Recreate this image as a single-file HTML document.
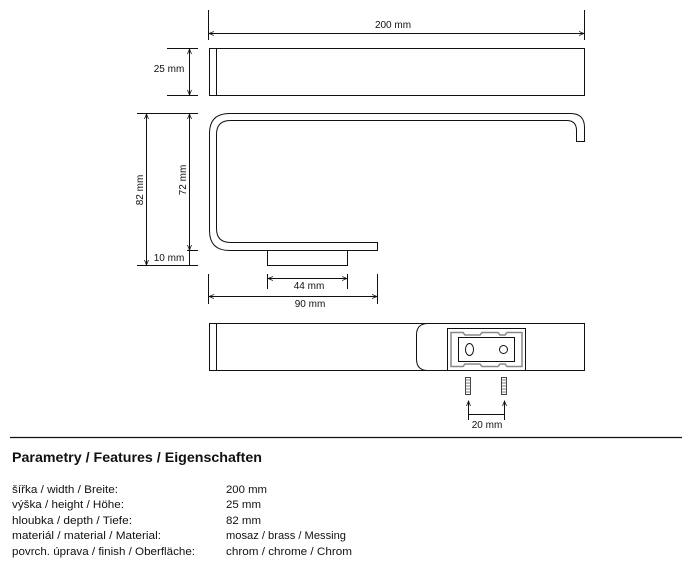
<!DOCTYPE html>
<html><head><meta charset="utf-8"><style>
html,body{margin:0;padding:0;background:#fff;}
svg{display:block;}
text{font-family:"Liberation Sans",sans-serif;fill:#111;}
</style></head><body>
<svg width="690" height="568" viewBox="0 0 690 568" xmlns="http://www.w3.org/2000/svg">
<defs>
<marker id="a" markerWidth="6" markerHeight="6" refX="5" refY="3" orient="auto-start-reverse" markerUnits="userSpaceOnUse"><path d="M0,1 L5,3 L0,5" fill="none" stroke="#111" stroke-width="0.8"/></marker>
</defs>
<g stroke="#111" stroke-width="1" fill="none">
<line x1="208.5" y1="10" x2="208.5" y2="40"/><line x1="584.5" y1="10" x2="584.5" y2="40"/>
<line x1="209" y1="33.5" x2="584" y2="33.5" marker-start="url(#a)" marker-end="url(#a)"/>
<rect x="209.5" y="48.5" width="375" height="47"/><line x1="216.5" y1="48" x2="216.5" y2="95"/>
<line x1="167" y1="48.5" x2="198" y2="48.5"/><line x1="167" y1="95.5" x2="198" y2="95.5"/>
<line x1="189.5" y1="49" x2="189.5" y2="95" marker-start="url(#a)" marker-end="url(#a)"/>
<path d="M377.5,250.5 L229.5,250.5 Q209.5,250.5 209.5,230.5 L209.5,133.5 Q209.5,113.5 229.5,113.5 L570.5,113.5 Q584.5,113.5 584.5,127.5 L584.5,141.5 L576.5,141.5 L576.5,130.5 Q576.5,120.5 566.5,120.5 L230.5,120.5 Q216.5,120.5 216.5,134.5 L216.5,228.5 Q216.5,242.5 230.5,242.5 L377.5,242.5 Z"/>
<rect x="267.5" y="250.5" width="80" height="15"/>
<line x1="137" y1="113.5" x2="198" y2="113.5"/><line x1="137" y1="265.5" x2="198" y2="265.5"/><line x1="187" y1="250.5" x2="198" y2="250.5"/>
<line x1="146.5" y1="114" x2="146.5" y2="265" marker-start="url(#a)" marker-end="url(#a)"/>
<line x1="189.5" y1="114" x2="189.5" y2="250" marker-start="url(#a)" marker-end="url(#a)"/>
<line x1="189.5" y1="251" x2="189.5" y2="265"/>
<line x1="267.5" y1="274" x2="267.5" y2="289"/><line x1="347.5" y1="274" x2="347.5" y2="289"/>
<line x1="268" y1="278.5" x2="347" y2="278.5" marker-start="url(#a)" marker-end="url(#a)"/>
<line x1="208.5" y1="274" x2="208.5" y2="304"/><line x1="377.5" y1="274" x2="377.5" y2="304"/>
<line x1="209" y1="296.5" x2="377" y2="296.5" marker-start="url(#a)" marker-end="url(#a)"/>
<rect x="209.5" y="323.5" width="375" height="47"/><line x1="216.5" y1="323" x2="216.5" y2="370"/>
<path d="M428,323.5 Q416.5,323.5 416.5,335 L416.5,359 Q416.5,370.5 428,370.5"/>
<rect x="447.5" y="328.5" width="78" height="42"/>
<path d="M451,332.5 L463,332.5 L465,335 L480,335 L482,332.5 L498,332.5 L500,335 L505,335 L507,332.5 L522,332.5 L522,366.5 L507,366.5 L505,364 L500,364 L498,366.5 L482,366.5 L480,364 L465,364 L463,366.5 L451,366.5 Z" stroke="#888" stroke-width="1.5"/>
<rect x="458.5" y="337.5" width="56" height="24"/>
<ellipse cx="469.5" cy="349.5" rx="4" ry="6"/><circle cx="503.5" cy="349.5" r="4"/>
<rect x="465.5" y="377.5" width="5" height="17" stroke="#444"/><rect x="501.5" y="377.5" width="5" height="17" stroke="#444"/>
<path d="M466,380h5M466,383h5M466,386h5M466,389h5M466,392h5M502,380h5M502,383h5M502,386h5M502,389h5M502,392h5" stroke="#555" stroke-width="0.8"/>
<line x1="468.5" y1="420" x2="468.5" y2="401" marker-end="url(#a)"/>
<line x1="504.5" y1="420" x2="504.5" y2="401" marker-end="url(#a)"/>
<line x1="469" y1="414.5" x2="504" y2="414.5"/>
<line x1="10" y1="437.5" x2="682" y2="437.5" stroke-width="1.2"/>
</g>
<g font-size="10">
<text x="393" y="28" text-anchor="middle">200 mm</text>
<text x="169" y="72" text-anchor="middle">25 mm</text>
<text x="0" y="0" transform="translate(143,190) rotate(-90)" text-anchor="middle">82 mm</text>
<text x="0" y="0" transform="translate(186,180) rotate(-90)" text-anchor="middle">72 mm</text>
<text x="169" y="261" text-anchor="middle">10 mm</text>
<text x="309" y="289" text-anchor="middle">44 mm</text>
<text x="310" y="307" text-anchor="middle">90 mm</text>
<text x="487" y="428" text-anchor="middle">20 mm</text>
</g>
<text x="12" y="462" font-size="14" font-weight="bold" textLength="250" lengthAdjust="spacingAndGlyphs">Parametry / Features / Eigenschaften</text>
<g font-size="11">
<text x="12" y="493" textLength="106" lengthAdjust="spacingAndGlyphs">šířka / width / Breite:</text>
<text x="12" y="508" textLength="112" lengthAdjust="spacingAndGlyphs">výška / height / Höhe:</text>
<text x="12" y="524" textLength="120" lengthAdjust="spacingAndGlyphs">hloubka / depth / Tiefe:</text>
<text x="12" y="539" textLength="149" lengthAdjust="spacingAndGlyphs">materiál / material / Material:</text>
<text x="12" y="555" textLength="183" lengthAdjust="spacingAndGlyphs">povrch. úprava / finish / Oberfläche:</text>
<text x="226" y="493" textLength="41" lengthAdjust="spacingAndGlyphs">200 mm</text>
<text x="226" y="508" textLength="35" lengthAdjust="spacingAndGlyphs">25 mm</text>
<text x="226" y="524" textLength="35" lengthAdjust="spacingAndGlyphs">82 mm</text>
<text x="226" y="539" textLength="120" lengthAdjust="spacingAndGlyphs">mosaz / brass / Messing</text>
<text x="226" y="555" textLength="126" lengthAdjust="spacingAndGlyphs">chrom / chrome / Chrom</text>
</g>
</svg>
</body></html>
